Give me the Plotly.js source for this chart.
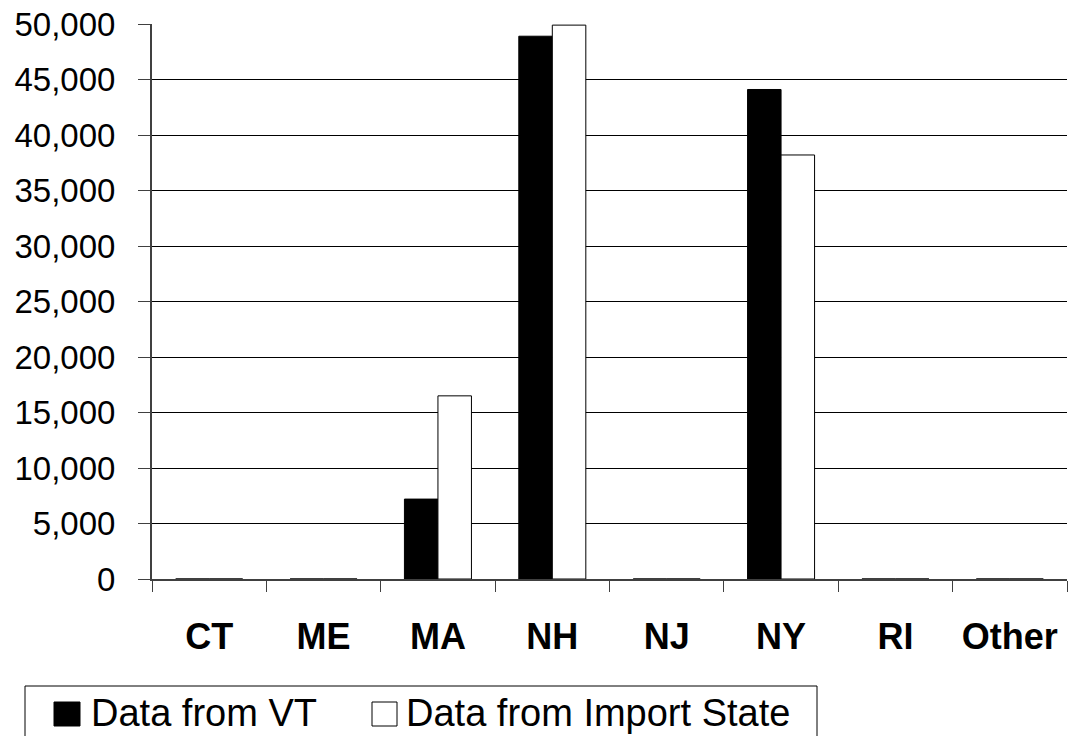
<!DOCTYPE html>
<html>
<head>
<meta charset="utf-8">
<script src="https://cdn.plot.ly/plotly-3.0.1.min.js"></script>
<style>html,body{margin:0;padding:0;background:#fff;}#chart{width:1068px;height:736px;}</style>
</head>
<body>
<div id="chart"></div>
<script>
const categories = ["CT", "ME", "MA", "NH", "NJ", "NY", "RI", "Other"];
const dataFromVT = [0, 0, 7200, 48900, 0, 44100, 0, 0];
const dataFromImportState = [0, 0, 16500, 49900, 0, 38200, 0, 0];
const seriesNames = ["Data from VT", "Data from Import State"];
const seriesColors = ["#000000", "#ffffff"];

const FONT = "Liberation Sans, Arial, sans-serif";
const W = 1068, H = 736;
const M = {l: 152, r: 1, t: 24, b: 157};
const PW = W - M.l - M.r, PH = H - M.t - M.b;
// pixel -> paper helpers (for the legend box only)
const px = v => (v - M.l) / PW;
const py = v => (H - M.b - v) / PH;

const traces = [
  {
    type: "bar", name: seriesNames[0], x: categories, y: dataFromVT,
    marker: {color: seriesColors[0], line: {color: "#000000", width: 1}}
  },
  {
    type: "bar", name: seriesNames[1], x: categories, y: dataFromImportState,
    marker: {color: seriesColors[1], line: {color: "#000000", width: 1}}
  }
];

// Legend drawn as a framed box with keys and real text labels
const legendItems = [
  {keyX0: 54, keyX1: 80, textX: 89, name: seriesNames[0], color: seriesColors[0]},
  {keyX0: 372, keyX1: 397, textX: 404, name: seriesNames[1], color: seriesColors[1]}
];
const shapes = [
  {type: "rect", xref: "paper", yref: "paper",
   x0: px(25), x1: px(817), y0: py(686), y1: py(745),
   line: {color: "#000000", width: 1}, fillcolor: "rgba(0,0,0,0)", layer: "above"}
];
const annotations = [];
legendItems.forEach(it => {
  shapes.push({type: "rect", xref: "paper", yref: "paper",
    x0: px(it.keyX0), x1: px(it.keyX1), y0: py(702), y1: py(726),
    line: {color: "#000000", width: 1}, fillcolor: it.color, layer: "above"});
  annotations.push({xref: "paper", yref: "paper", x: px(it.textX), y: py(713),
    xanchor: "left", yanchor: "middle", showarrow: false, text: it.name,
    font: {family: FONT, size: 38, color: "#000000"}});
});

const layout = {
  width: W, height: H,
  margin: {l: M.l, r: M.r, t: M.t, b: M.b, pad: 0},
  paper_bgcolor: "#ffffff", plot_bgcolor: "#ffffff",
  font: {family: FONT, color: "#000000", size: 30},
  barmode: "group",
  bargap: 0.414,
  bargroupgap: 0,
  showlegend: false,
  shapes: shapes,
  annotations: annotations,
  xaxis: {
    type: "category",
    tickson: "boundaries",
    ticks: "outside", ticklen: 11, tickcolor: "#404040", tickwidth: 1,
    showline: true, linecolor: "#404040", linewidth: 2,
    showgrid: false,
    tickfont: {family: FONT, size: 36, color: "#000000", weight: "bold"},
    ticklabelstandoff: 25,
    fixedrange: true
  },
  yaxis: {
    range: [0, 50000], dtick: 5000, tick0: 0,
    tickformat: ",d",
    ticks: "outside", ticklen: 12, tickcolor: "#404040", tickwidth: 1,
    showline: true, linecolor: "#404040", linewidth: 2,
    showgrid: true, gridcolor: "#000000", gridwidth: 1,
    zeroline: false,
    tickfont: {family: FONT, size: 33, color: "#000000"},
    ticklabelstandoff: 16,
    fixedrange: true
  }
};

Plotly.newPlot("chart", traces, layout, {displayModeBar: false, staticPlot: true});
</script>
</body>
</html>
